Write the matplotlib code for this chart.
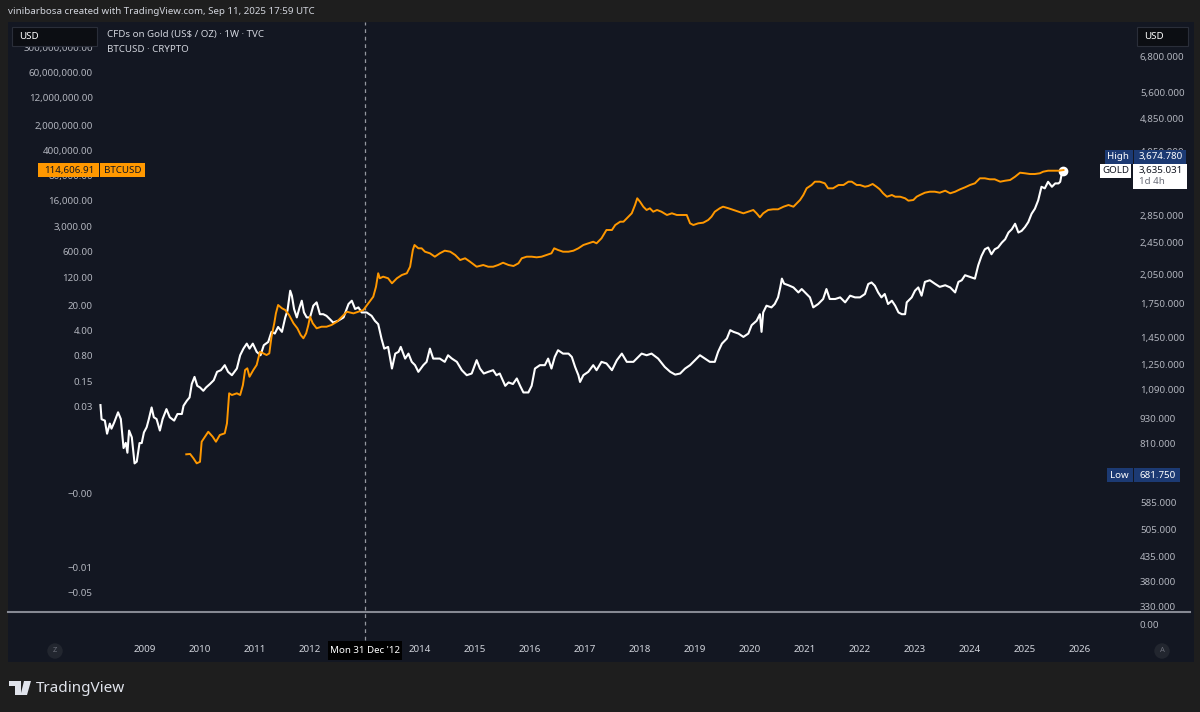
import numpy as np
import matplotlib
matplotlib.use('Agg')
import matplotlib.pyplot as plt
from matplotlib.patches import Rectangle, Polygon
from matplotlib.lines import Line2D
from matplotlib.ticker import NullLocator

plt.rcParams['font.family'] = ['Noto Sans', 'DejaVu Sans']

# weekly closes (decimal year, USD)
gold_year = [
    2008.19, 2008.21, 2008.27, 2008.31, 2008.36, 2008.39, 2008.44, 2008.51, 2008.56, 2008.61,
    2008.65, 2008.68, 2008.71, 2008.76, 2008.81, 2008.85, 2008.90, 2008.94, 2008.98, 2009.03,
    2009.07, 2009.12, 2009.16, 2009.21, 2009.27, 2009.32, 2009.39, 2009.45, 2009.53, 2009.59,
    2009.67, 2009.70, 2009.76, 2009.81, 2009.85, 2009.90, 2009.95, 2010.00, 2010.06, 2010.11,
    2010.18, 2010.25, 2010.31, 2010.38, 2010.45, 2010.51, 2010.58, 2010.67, 2010.73, 2010.79,
    2010.85, 2010.90, 2010.96, 2011.03, 2011.10, 2011.16, 2011.24, 2011.30, 2011.36, 2011.42,
    2011.49, 2011.55, 2011.59, 2011.64, 2011.67, 2011.71, 2011.76, 2011.81, 2011.85, 2011.89,
    2011.94, 2012.00, 2012.06, 2012.12, 2012.18, 2012.24, 2012.30, 2012.36, 2012.42, 2012.51,
    2012.61, 2012.70, 2012.76, 2012.82, 2012.88, 2012.94, 2013.03, 2013.12, 2013.18, 2013.24,
    2013.30, 2013.35, 2013.42, 2013.49, 2013.55, 2013.61, 2013.65, 2013.73, 2013.79, 2013.85,
    2013.91, 2013.97, 2014.06, 2014.12, 2014.18, 2014.24, 2014.36, 2014.45, 2014.51, 2014.58,
    2014.67, 2014.76, 2014.85, 2014.94, 2015.03, 2015.09, 2015.16, 2015.24, 2015.33, 2015.39,
    2015.45, 2015.55, 2015.61, 2015.69, 2015.76, 2015.82, 2015.88, 2015.97, 2016.03, 2016.09,
    2016.18, 2016.27, 2016.33, 2016.39, 2016.45, 2016.51, 2016.60, 2016.70, 2016.76, 2016.82,
    2016.88, 2016.91, 2016.97, 2017.06, 2017.15, 2017.21, 2017.30, 2017.39, 2017.49, 2017.58,
    2017.67, 2017.76, 2017.88, 2017.94, 2018.03, 2018.12, 2018.21, 2018.33, 2018.45, 2018.55,
    2018.64, 2018.73, 2018.82, 2018.91, 2019.00, 2019.09, 2019.18, 2019.27, 2019.36, 2019.42,
    2019.49, 2019.58, 2019.64, 2019.70, 2019.79, 2019.88, 2019.97, 2020.03, 2020.12, 2020.18,
    2020.21, 2020.24, 2020.30, 2020.39, 2020.45, 2020.51, 2020.55, 2020.58, 2020.62, 2020.70,
    2020.79, 2020.88, 2020.94, 2021.03, 2021.09, 2021.15, 2021.24, 2021.33, 2021.39, 2021.45,
    2021.55, 2021.64, 2021.73, 2021.82, 2021.91, 2022.00, 2022.09, 2022.15, 2022.21, 2022.27,
    2022.33, 2022.39, 2022.45, 2022.51, 2022.58, 2022.64, 2022.70, 2022.76, 2022.82, 2022.85,
    2022.94, 2023.00, 2023.06, 2023.12, 2023.18, 2023.27, 2023.36, 2023.45, 2023.55, 2023.64,
    2023.73, 2023.79, 2023.85, 2023.91, 2024.00, 2024.09, 2024.15, 2024.21, 2024.27, 2024.33,
    2024.39, 2024.45, 2024.51, 2024.58, 2024.64, 2024.70, 2024.76, 2024.82, 2024.88, 2024.94,
    2025.00, 2025.06, 2025.12, 2025.18, 2025.24, 2025.30, 2025.36, 2025.42, 2025.49, 2025.55,
    2025.61, 2025.64, 2025.67, 2025.70]
gold_price = [
    1002, 927, 920, 856, 905, 880, 911, 963, 928, 791,
    814, 771, 871, 839, 727, 734, 813, 813, 862, 887,
    928, 989, 937, 928, 871, 928, 980, 937, 920, 954,
    954, 998, 1026, 1045, 1125, 1170, 1114, 1104, 1084, 1104,
    1125, 1149, 1203, 1214, 1248, 1203, 1181, 1225, 1318, 1367,
    1405, 1367, 1405, 1343, 1318, 1393, 1418, 1499, 1485, 1540,
    1499, 1623, 1684, 1880, 1829, 1700, 1623, 1715, 1779, 1668,
    1623, 1623, 1731, 1763, 1652, 1652, 1637, 1608, 1578, 1593,
    1623, 1747, 1779, 1700, 1715, 1668, 1668, 1637, 1593, 1564,
    1444, 1367, 1380, 1225, 1330, 1343, 1380, 1294, 1330, 1271,
    1248, 1203, 1248, 1271, 1367, 1294, 1294, 1271, 1318, 1294,
    1271, 1214, 1181, 1192, 1283, 1225, 1192, 1203, 1214, 1181,
    1192, 1114, 1135, 1125, 1160, 1114, 1074, 1074, 1114, 1225,
    1248, 1248, 1294, 1225, 1306, 1355, 1330, 1330, 1306, 1236,
    1181, 1138, 1181, 1203, 1248, 1214, 1271, 1260, 1214, 1283,
    1330, 1271, 1271, 1294, 1330, 1318, 1330, 1294, 1236, 1203,
    1185, 1192, 1225, 1248, 1283, 1318, 1294, 1271, 1271, 1343,
    1405, 1445, 1513, 1499, 1485, 1458, 1485, 1555, 1593, 1652,
    1499, 1668, 1731, 1715, 1747, 1812, 1914, 2009, 1954, 1937,
    1914, 1862, 1897, 1846, 1812, 1715, 1747, 1796, 1897, 1796,
    1796, 1812, 1763, 1829, 1812, 1812, 1846, 1950, 1967, 1932,
    1862, 1812, 1846, 1747, 1779, 1731, 1668, 1652, 1652, 1763,
    1812, 1880, 1914, 1829, 1973, 1991, 1954, 1920, 1937, 1914,
    1862, 1973, 1991, 2047, 2028, 2009, 2162, 2277, 2361, 2384,
    2297, 2361, 2384, 2450, 2495, 2589, 2636, 2717, 2589, 2613,
    2668, 2742, 2870, 2951, 3090, 3330, 3301, 3422, 3330, 3392,
    3392, 3422, 3585, 3635.031]

btc_year = [
    2009.75, 2009.82, 2009.88, 2009.94, 2010.00, 2010.03, 2010.09, 2010.15, 2010.23, 2010.29,
    2010.36, 2010.45, 2010.49, 2010.53, 2010.58, 2010.67, 2010.73, 2010.78, 2010.82, 2010.86,
    2010.90, 2010.97, 2011.03, 2011.09, 2011.15, 2011.21, 2011.26, 2011.30, 2011.35, 2011.38,
    2011.42, 2011.49, 2011.55, 2011.62, 2011.70, 2011.77, 2011.83, 2011.88, 2011.93, 2011.97,
    2012.00, 2012.05, 2012.12, 2012.21, 2012.30, 2012.39, 2012.49, 2012.58, 2012.67, 2012.79,
    2012.88, 2012.97, 2013.06, 2013.15, 2013.20, 2013.24, 2013.27, 2013.33, 2013.42, 2013.49,
    2013.58, 2013.67, 2013.76, 2013.82, 2013.87, 2013.90, 2013.97, 2014.03, 2014.09, 2014.18,
    2014.27, 2014.36, 2014.45, 2014.55, 2014.64, 2014.73, 2014.82, 2014.91, 2015.03, 2015.15,
    2015.24, 2015.33, 2015.42, 2015.51, 2015.61, 2015.70, 2015.79, 2015.85, 2015.94, 2016.03,
    2016.12, 2016.21, 2016.30, 2016.39, 2016.44, 2016.51, 2016.60, 2016.70, 2016.79, 2016.88,
    2016.97, 2017.06, 2017.15, 2017.21, 2017.30, 2017.39, 2017.49, 2017.55, 2017.64, 2017.70,
    2017.79, 2017.85, 2017.91, 2017.95, 2018.00, 2018.06, 2018.12, 2018.18, 2018.24, 2018.31,
    2018.39, 2018.49, 2018.58, 2018.67, 2018.76, 2018.85, 2018.91, 2018.97, 2019.06, 2019.15,
    2019.24, 2019.30, 2019.36, 2019.45, 2019.51, 2019.61, 2019.70, 2019.79, 2019.88, 2019.97,
    2020.06, 2020.12, 2020.18, 2020.24, 2020.33, 2020.42, 2020.51, 2020.61, 2020.70, 2020.79,
    2020.85, 2020.91, 2020.97, 2021.03, 2021.12, 2021.18, 2021.27, 2021.36, 2021.42, 2021.51,
    2021.61, 2021.70, 2021.79, 2021.85, 2021.94, 2022.00, 2022.09, 2022.15, 2022.23, 2022.30,
    2022.36, 2022.42, 2022.49, 2022.58, 2022.64, 2022.73, 2022.82, 2022.88, 2022.97, 2023.03,
    2023.09, 2023.18, 2023.27, 2023.36, 2023.45, 2023.55, 2023.64, 2023.73, 2023.82, 2023.91,
    2024.00, 2024.09, 2024.18, 2024.27, 2024.36, 2024.45, 2024.55, 2024.64, 2024.73, 2024.82,
    2024.91, 2025.00, 2025.09, 2025.18, 2025.27, 2025.33, 2025.42, 2025.51, 2025.61, 2025.70]
btc_price = [
    0.00139, 0.00142, 0.00108, 0.00078, 0.00086, 0.00312, 0.0043, 0.0059, 0.0043, 0.00312,
    0.00479, 0.00535, 0.0101, 0.0695, 0.0623, 0.0695, 0.0623, 0.118, 0.31, 0.345,
    0.201, 0.31, 0.427, 1.0, 0.90, 0.81, 0.90, 2.62, 6.19, 11.7,
    20.0, 16.2, 14.5, 10.5, 6.19, 4.49, 2.92, 2.37, 3.26, 5.55,
    9.45, 6.19, 4.49, 4.97, 4.97, 5.55, 6.85, 9.45, 13.0, 11.7,
    13.0, 14.5, 22.3, 34, 64.7, 153, 111, 123, 111, 80.4,
    111, 137, 153, 233, 681, 937, 759, 759, 610, 551,
    443, 551, 651, 610, 494, 358, 400, 321, 233, 260,
    233, 233, 260, 301, 260, 244, 290, 400, 443, 443,
    426, 443, 494, 551, 759, 681, 610, 610, 651, 759,
    937, 1045, 1158, 1045, 1441, 2454, 2454, 3381, 4178, 4178,
    5755, 7155, 12190, 18740, 15060, 10930, 8850, 9860, 7930, 8850,
    7930, 6420, 7155, 6420, 6420, 6420, 3770, 3381, 3770, 3918,
    4660, 5755, 7930, 9860, 10930, 9860, 8850, 7930, 7155, 7930,
    8850, 7155, 5535, 7155, 8850, 9250, 9250, 10930, 12190, 10930,
    13590, 16790, 23150, 35560, 43950, 54330, 54330, 48980, 35560, 35560,
    43950, 43950, 54330, 54330, 43950, 43950, 39400, 41210, 46880, 39400,
    33340, 25820, 20750, 23150, 20750, 20750, 18740, 16070, 16790, 20750,
    23150, 26830, 28610, 28610, 26830, 30500, 25820, 28610, 33340, 37930,
    43950, 48980, 67520, 67520, 63330, 63330, 54330, 57890, 60540, 74820,
    96700, 93110, 88920, 88920, 93110, 103100, 109900, 109900, 109900, 114606.91]

gold_ticks = [6800, 5600, 4850, 4050, 2850, 2450, 2050, 1750, 1450, 1250,
              1090, 930, 810, 585, 505, 435, 380, 330]
btc_ticks = [3e8, 6e7, 1.2e7, 2e6, 4e5, 8e4, 16000, 3000, 600, 120, 20, 4,
             0.8, 0.15, 0.03, 1.1e-4, 1e-6, 2e-7]
btc_tick_labels = ['300,000,000.00', '60,000,000.00', '12,000,000.00',
                   '2,000,000.00', '400,000.00', '80,000.00', '16,000.00',
                   '3,000.00', '600.00', '120.00', '20.00', '4.00', '0.80',
                   '0.15', '0.03', '\u22120.00', '\u22120.01', '\u22120.05']
years = list(range(2009, 2027))
gold_high = 3674.780
gold_low = 681.750
crosshair = 2013.0

W, H = 1200, 712
BG_OUT = '#1e1e1e'
BG_PANE = '#131722'
TXT = '#d1d4dc'
AXTXT = '#b2b5be'
ORANGE = '#ff9800'
BLUE = '#1c3a73'


def fx(x):
    return x / W


def fy(y):
    return 1 - y / H


def box(x0, y0, x1, y1, fc, ec='none', lw=0, z=5):
    fig.add_artist(Rectangle((fx(x0), fy(y1)), fx(x1) - fx(x0), fy(y0) - fy(y1),
                             transform=fig.transFigure, fc=fc, ec=ec, lw=lw,
                             zorder=z))


def label(x, y, s, size=7, color=TXT, ha='left', z=6, **kw):
    fig.text(fx(x), fy(y), s, size=size, color=color, ha=ha, va='center',
             zorder=z, **kw)


def ypix(axis, v):
    return H - axis.transData.transform((0, v))[1]


fig = plt.figure(figsize=(W / 100, H / 100), dpi=100)
fig.patch.set_facecolor(BG_OUT)
box(8, 22, 1194, 662, BG_PANE, z=-2)

ax = fig.add_axes([fx(97), fy(612), fx(1133) - fx(97), fy(22) - fy(612)])
ax.set_facecolor('none')
ax2 = ax.twinx()

ax.plot(gold_year, gold_price, color='white', lw=1.5)
ax.plot(gold_year[-1], gold_price[-1], 'o', color='white', ms=6)
ax2.plot(btc_year, btc_price, color=ORANGE, lw=1.4)

ax.set_xlim(2008.127, 2026.964)
ax.set_yscale('log')
ax.set_ylim(321, 8243)
ax2.set_yscale('log')
ax2.set_ylim(10 ** -7.248, 10 ** 9.182)

ax.yaxis.tick_right()
ax2.yaxis.tick_left()
ax.set_yticks(gold_ticks)
ax.set_yticklabels(['{:,.3f}'.format(v) for v in gold_ticks])
ax2.set_yticks(btc_ticks)
ax2.set_yticklabels(btc_tick_labels)
for a in (ax, ax2):
    a.yaxis.set_minor_locator(NullLocator())
    for s in a.spines.values():
        s.set_visible(False)
ax.tick_params(axis='y', length=0, pad=5, labelsize=7, labelcolor=AXTXT)
ax2.tick_params(axis='y', length=0, pad=3, labelsize=7, labelcolor=AXTXT)
# the crosshair date label sits where 2013 would be
ax.set_xticks(years)
ax.set_xticklabels(['' if y == int(crosshair) else str(y) for y in years],
                   fontweight='bold')
ax.tick_params(axis='x', length=0, pad=24, labelsize=7, labelcolor=TXT)

# crosshair
ax.axvline(crosshair, ymin=-28 / 590, ymax=1, clip_on=False, color='#9598a1',
           lw=0.9, ls=(0, (3, 3)))
cx = ax.transData.transform((crosshair, 1000))[0]
box(cx - 37, 641, cx + 37, 660, '#000000')
label(cx, 650.5, "Mon 31 Dec '12", color='white', ha='center', z=7)

# pane separator and lower scale
fig.add_artist(Line2D([fx(8), fx(1190)], [fy(612), fy(612)], color='#868993',
                      lw=1.5, transform=fig.transFigure))
label(1140, 626, '0.00', color=AXTXT)

# price tags
yb = ypix(ax2, btc_price[-1])
box(38, yb - 7, 99, yb + 7, ORANGE)
label(94, yb, '{:,.2f}'.format(btc_price[-1]), color=BG_PANE, ha='right', z=7)
box(100, yb - 7, 145, yb + 7, ORANGE)
label(104, yb, 'BTCUSD', color=BG_PANE, z=7)

yg = ypix(ax, gold_price[-1])
yh = yg - 14
box(1105, yh - 7, 1133, yh + 7, BLUE)
label(1129, yh, 'High', color='white', ha='right', z=7)
box(1134, yh - 7, 1186, yh + 7, BLUE)
label(1139, yh, '{:,.3f}'.format(gold_high), color='white', z=7)
box(1100, yg - 7, 1131, yg + 7, 'white')
label(1115.5, yg, 'GOLD', color=BG_PANE, ha='center', z=7)
box(1133, yg - 7, 1187, yg + 18, 'white')
label(1139, yg, '{:,.3f}'.format(gold_price[-1]), color=BG_PANE, z=7)
label(1139, yg + 11, '1d 4h', color='#6a6d78', z=7)

yl = ypix(ax, gold_low)
box(1107, yl - 7, 1133, yl + 7, BLUE)
label(1129, yl, 'Low', color='white', ha='right', z=7)
box(1134, yl - 7, 1180, yl + 7, BLUE)
label(1139, yl, '{:,.3f}'.format(gold_low), color='white', z=7)

# currency boxes and legend
box(12, 27, 97, 46, '#0c0e13', ec='#2a2e39', lw=0.8)
label(19, 36.5, 'USD', color='white', z=7)
box(1137, 27, 1188, 46, '#0c0e13', ec='#2a2e39', lw=0.8)
label(1144, 36.5, 'USD', color='white', z=7)
label(107, 35, 'CFDs on Gold (US$ / OZ) \u00b7 1W \u00b7 TVC')
label(107, 49, 'BTCUSD \u00b7 CRYPTO')

# header and footer
label(8, 12, 'vinibarbosa created with TradingView.com, Sep 11, 2025 17:59 UTC',
      size=7)
for s, x in (('Z', 55), ('A', 1162)):
    fig.text(fx(x), fy(651), s, size=5.5, color='#6a6d78', ha='center',
             va='center', bbox=dict(boxstyle='circle,pad=0.55', fc='#22262f',
                                    ec='none'))
logo = '#e0e3eb'
box(9, 681, 21, 686, logo)
box(15, 681, 21, 695, logo)
fig.add_artist(Polygon([(fx(24), fy(681)), (fx(31), fy(681)), (fx(27), fy(695)),
                        (fx(20.5), fy(695))], closed=True, fc=logo, ec='none',
                       transform=fig.transFigure))
label(36, 688, 'TradingView', size=11, color=logo, fontweight='semibold')

fig.savefig('out.png', dpi=100, facecolor=fig.get_facecolor())
